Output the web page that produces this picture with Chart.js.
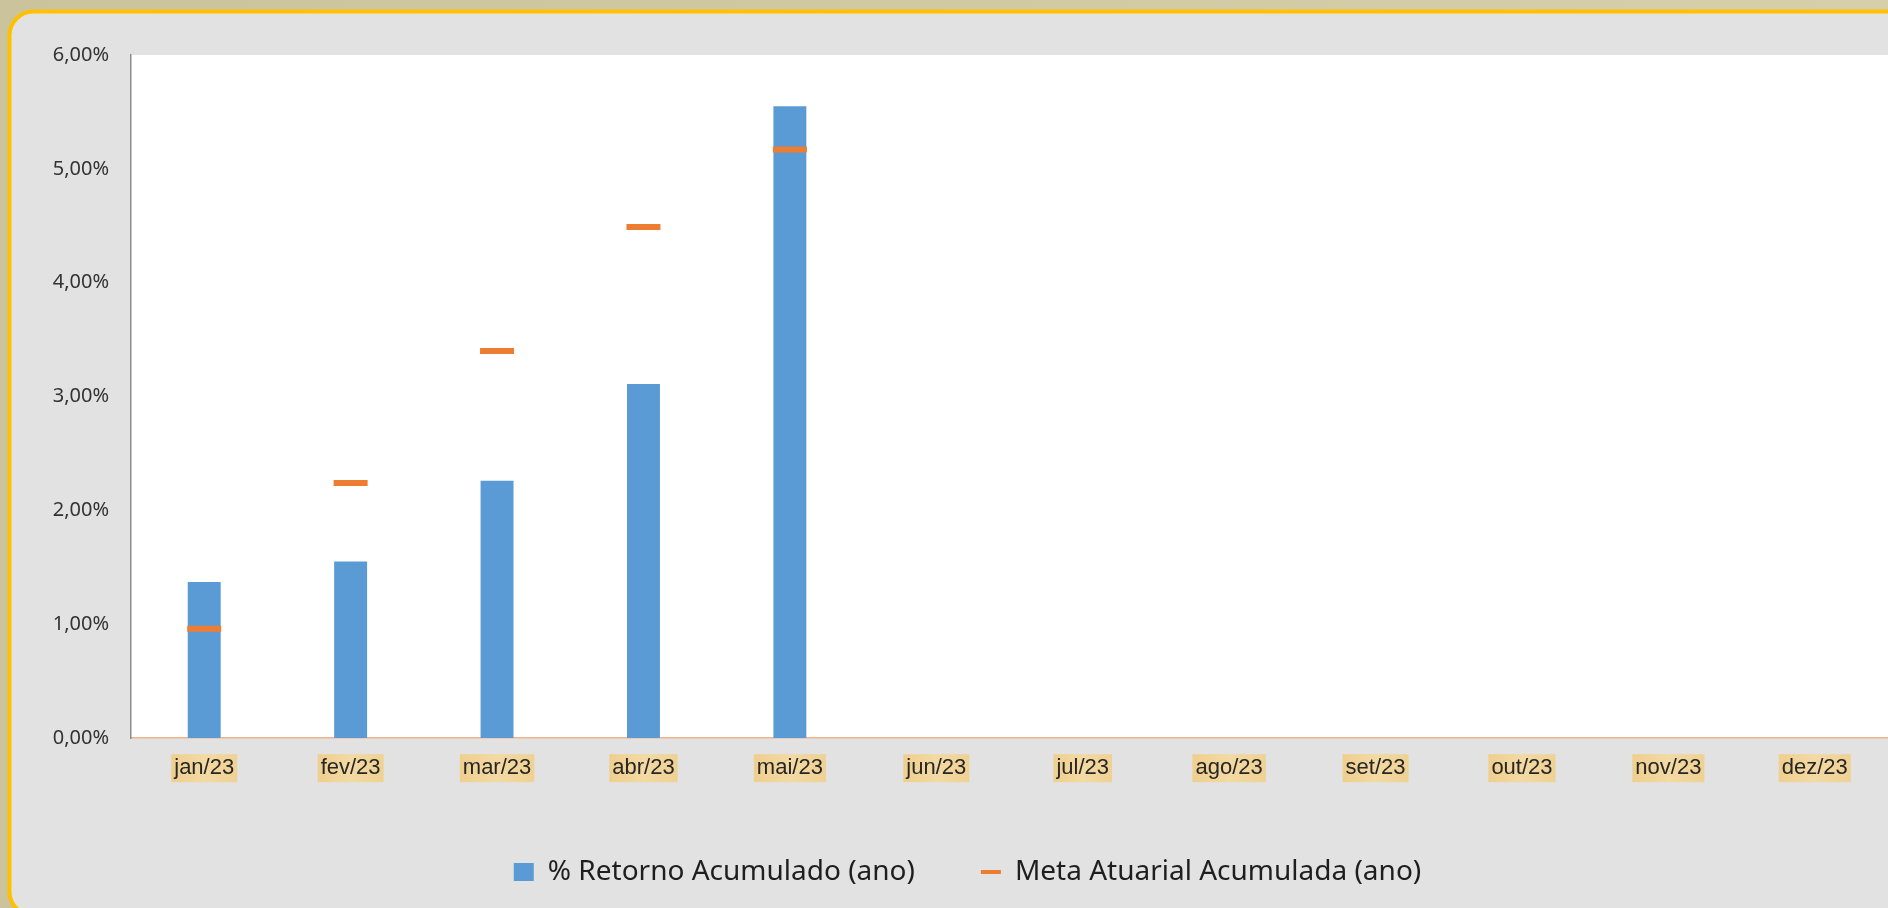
<!DOCTYPE html>
<html>
<head>
<meta charset="utf-8">
<script src="https://cdn.jsdelivr.net/npm/chart.js@4.4.1/dist/chart.umd.min.js"></script>
<style>
  html, body { margin: 0; padding: 0; background: #cfc7a1; overflow: hidden; }
  #wrap { width: 1888px; height: 908px; position: relative; }
</style>
</head>
<body>
<div id="wrap"><canvas id="c" width="1888" height="908"></canvas></div>
<script>
const categories = ['jan/23','fev/23','mar/23','abr/23','mai/23','jun/23','jul/23','ago/23','set/23','out/23','nov/23','dez/23'];
const retornoAcumulado = [1.37, 1.55, 2.26, 3.11, 5.55, null, null, null, null, null, null, null];
const metaAtuarial = [0.96, 2.24, 3.40, 4.49, 5.17, null, null, null, null, null, null, null];
const seriesNames = ['% Retorno Acumulado (ano)', 'Meta Atuarial Acumulada (ano)'];
const yTicks = [0, 1, 2, 3, 4, 5, 6];

const BLUE = '#5b9bd5';
const ORANGE = '#ed7d31';
const XFONT = '"Liberation Sans", Arial, sans-serif';
const XSIZE = 22;
const XPAD = 17;

function roundRect(ctx, x, y, w, h, r) {
  ctx.beginPath();
  ctx.moveTo(x + r, y);
  ctx.lineTo(x + w - r, y);
  ctx.arcTo(x + w, y, x + w, y + r, r);
  ctx.lineTo(x + w, y + h - r);
  ctx.arcTo(x + w, y + h, x + w - r, y + h, r);
  ctx.lineTo(x + r, y + h);
  ctx.arcTo(x, y + h, x, y + h - r, r);
  ctx.lineTo(x, y + r);
  ctx.arcTo(x, y, x + r, y, r);
  ctx.closePath();
}

const backdrop = {
  id: 'backdrop',
  beforeDraw(chart) {
    const ctx = chart.ctx;
    const W = chart.width, H = chart.height;
    ctx.save();
    const g = ctx.createLinearGradient(0, 0, W, 0);
    g.addColorStop(0, '#cbc39c');
    g.addColorStop(1, '#d6cfa9');
    ctx.fillStyle = g;
    ctx.fillRect(0, 0, W, H);
    roundRect(ctx, 9.5, 11.5, W + 60, H - 4, 24);
    ctx.fillStyle = '#e2e2e2';
    ctx.fill();
    ctx.lineWidth = 4;
    ctx.strokeStyle = '#ffc000';
    ctx.stroke();
    const a = chart.chartArea;
    ctx.fillStyle = '#ffffff';
    ctx.fillRect(a.left, a.top, W - a.left + 10, a.bottom - a.top);
    const xs = chart.scales.x;
    ctx.font = XSIZE + 'px ' + XFONT;
    const cy = xs.top + XPAD + XSIZE * 1.2 / 2;
    categories.forEach((lab, i) => {
      const px = xs.getPixelForTick(i);
      const w = ctx.measureText(lab).width + 6;
      const hg = ctx.createLinearGradient(px - w / 2, 0, px + w / 2, 0);
      hg.addColorStop(0, '#efcf8e');
      hg.addColorStop(0.5, '#f3d9a3');
      hg.addColorStop(1, '#efd192');
      ctx.fillStyle = hg;
      ctx.fillRect(px - w / 2, cy - 14, w, 28);
    });
    ctx.restore();
  }
};

new Chart(document.getElementById('c'), {
  data: {
    labels: categories,
    datasets: [
      {
        type: 'bar',
        label: seriesNames[0],
        data: retornoAcumulado,
        backgroundColor: BLUE,
        borderWidth: 0,
        barPercentage: 0.225,
        categoryPercentage: 1,
        order: 1
      },
      {
        type: 'line',
        label: seriesNames[1],
        data: metaAtuarial,
        showLine: false,
        pointStyle: 'line',
        pointRadius: 17,
        pointHoverRadius: 17,
        pointBorderWidth: 6,
        pointHoverBorderWidth: 6,
        pointBorderColor: ORANGE,
        pointBackgroundColor: ORANGE,
        borderColor: ORANGE,
        clip: false,
        order: 0
      }
    ]
  },
  options: {
    responsive: false,
    animation: false,
    devicePixelRatio: 1,
    layout: { autoPadding: false, padding: { left: 44, top: 55, right: -3, bottom: 12 } },
    plugins: {
      tooltip: { enabled: false },
      legend: {
        position: 'bottom',
        labels: {
          usePointStyle: true,
          pointStyleWidth: 20,
          boxHeight: 18,
          padding: 66,
          color: '#1e1e1e',
          font: { family: '"Noto Sans", "Open Sans", sans-serif', size: 28 },
          generateLabels: () => [
            { text: seriesNames[0], fillStyle: BLUE, strokeStyle: BLUE, lineWidth: 0, pointStyle: 'rect', hidden: false, datasetIndex: 0, fontColor: '#1e1e1e' },
            { text: seriesNames[1], fillStyle: ORANGE, strokeStyle: ORANGE, lineWidth: 4, pointStyle: 'line', hidden: false, datasetIndex: 1, fontColor: '#1e1e1e' }
          ]
        }
      }
    },
    scales: {
      x: {
        type: 'category',
        offset: true,
        grid: { display: false, drawTicks: false },
        border: { display: true, color: '#f2b48e', width: 1.5 },
        ticks: {
          padding: XPAD,
          maxRotation: 0,
          autoSkip: false,
          color: '#262626',
          font: { family: XFONT, size: XSIZE }
        },
        afterFit(scale) { scale.height = 54; scale.paddingLeft = 0; scale.paddingRight = 0; }
      },
      y: {
        type: 'linear',
        min: 0,
        max: 6,
        afterBuildTicks(scale) { scale.ticks = yTicks.map(v => ({ value: v })); },
        grid: { display: false, drawTicks: false },
        border: { display: true, color: '#8c8c8c', width: 1.5 },
        ticks: {
          padding: 22,
          color: '#333333',
          font: { family: '"Noto Sans", sans-serif', size: 20 },
          callback: v => v.toFixed(2).replace('.', ',') + '%'
        },
        afterFit(scale) { scale.width = 87; }
      }
    }
  },
  plugins: [backdrop]
});
</script>
</body>
</html>
